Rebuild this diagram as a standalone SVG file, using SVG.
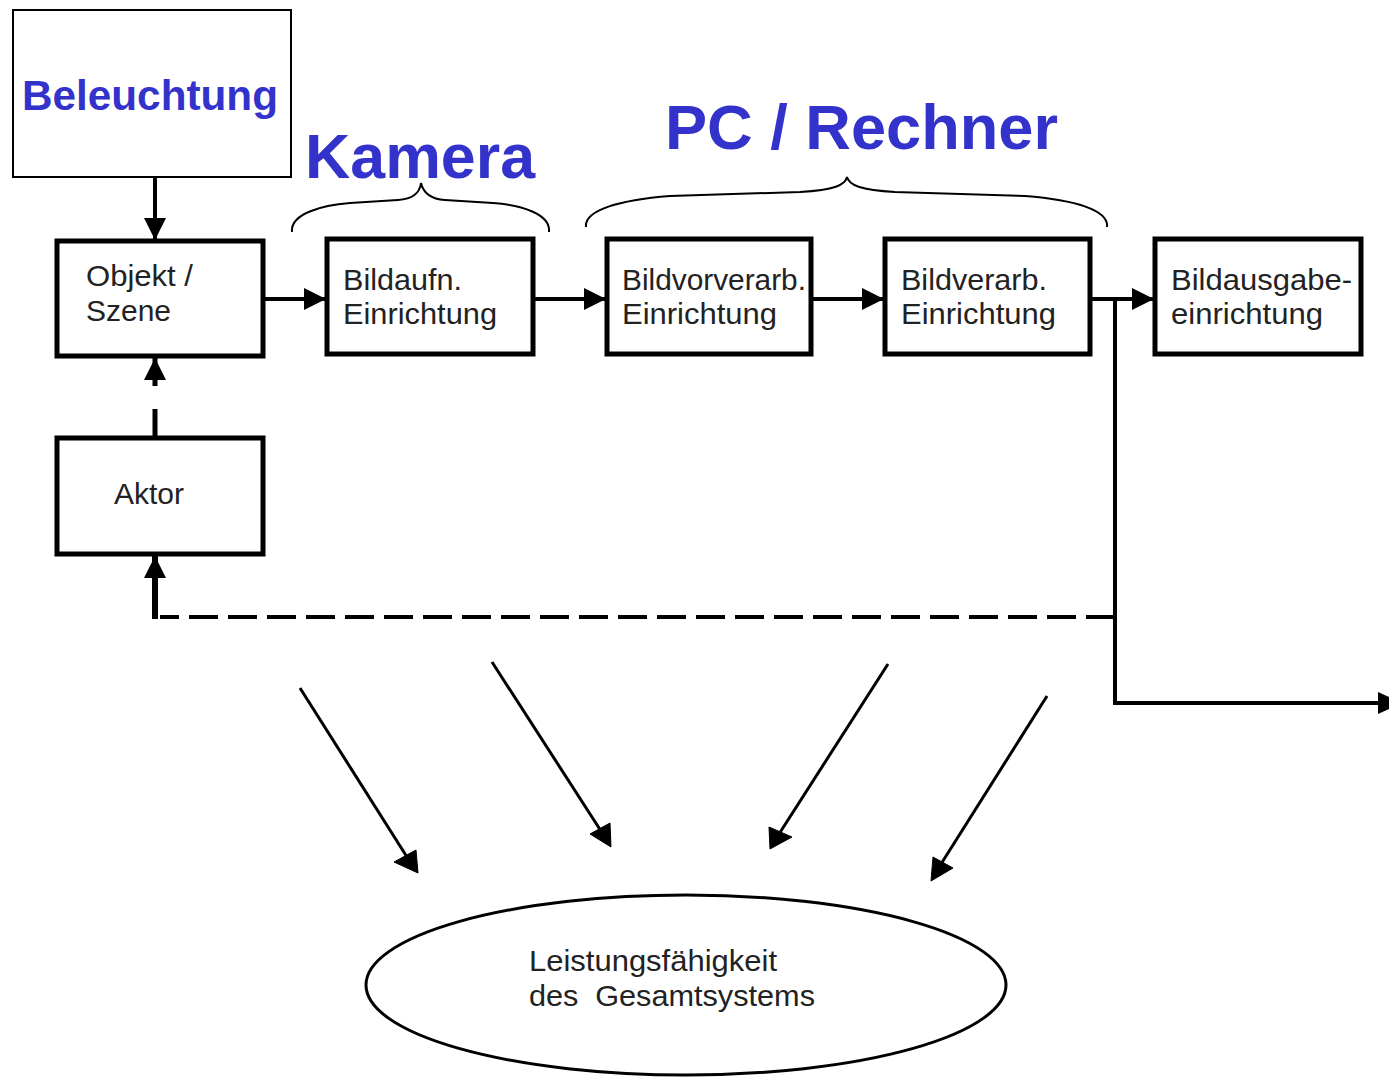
<svg xmlns="http://www.w3.org/2000/svg" width="1389" height="1078" viewBox="0 0 1389 1078">
<style>
.box{fill:#fff;stroke:#000;stroke-width:5}
.lbl{font-family:"Liberation Sans",Arial,sans-serif;font-size:30px;fill:#222}
.blue{font-family:"Liberation Sans",Arial,sans-serif;font-weight:bold;fill:#3333cc}
.ln{fill:none;stroke:#000;stroke-width:4}
.thin{fill:none;stroke:#000;stroke-width:3}
.brace{fill:none;stroke:#000;stroke-width:2}
.head{fill:#000;stroke:#000;stroke-width:1;stroke-linejoin:round}
</style>
<defs>
<marker id="ah" markerUnits="userSpaceOnUse" markerWidth="22" markerHeight="22" refX="22" refY="11" orient="auto">
<path d="M0,0 L22,11 L0,22 z" fill="#000"/>
</marker>
</defs>

<g id="beleuchtung">
<rect x="13" y="10" width="278" height="167" fill="#fff" stroke="#000" stroke-width="2"/>
<text class="blue" x="22" y="110" font-size="42" textLength="256" lengthAdjust="spacingAndGlyphs">Beleuchtung</text>
</g>
<g id="label-kamera">
<text class="blue" x="305" y="178" font-size="63" textLength="230" lengthAdjust="spacingAndGlyphs">Kamera</text>
<path class="brace" d="M292,232 C290,214 322,205 350,203 L398,200 C413,199 420,192 421,183 C423,192 430,199 445,200 L493,203 C521,205 551,214 549,232"/>
</g>
<g id="label-pc">
<text class="blue" x="665" y="149" font-size="63" textLength="393" lengthAdjust="spacingAndGlyphs">PC / Rechner</text>
<path class="brace" d="M586,227 C584,210 620,200 670,196 L800,192 C835,190 845,185 847,177 C849,185 860,190 895,192 L1025,196 C1075,200 1109,210 1107,227"/>
</g>

<g id="objekt">
<rect class="box" x="57" y="241" width="206" height="115"/>
<text class="lbl" x="86" y="286" textLength="107" lengthAdjust="spacingAndGlyphs">Objekt /</text>
<text class="lbl" x="86" y="321" textLength="85" lengthAdjust="spacingAndGlyphs">Szene</text>
</g>
<g id="bildaufn">
<rect class="box" x="327" y="239" width="206" height="115"/>
<text class="lbl" x="343" y="290" textLength="119" lengthAdjust="spacingAndGlyphs">Bildaufn.</text>
<text class="lbl" x="343" y="324" textLength="154" lengthAdjust="spacingAndGlyphs">Einrichtung</text>
</g>
<g id="bildvorverarb">
<rect class="box" x="607" y="239" width="204" height="115"/>
<text class="lbl" x="622" y="290" textLength="184" lengthAdjust="spacingAndGlyphs">Bildvorverarb.</text>
<text class="lbl" x="622" y="324" textLength="155" lengthAdjust="spacingAndGlyphs">Einrichtung</text>
</g>
<g id="bildverarb">
<rect class="box" x="885" y="239" width="205" height="115"/>
<text class="lbl" x="901" y="290" textLength="146" lengthAdjust="spacingAndGlyphs">Bildverarb.</text>
<text class="lbl" x="901" y="324" textLength="155" lengthAdjust="spacingAndGlyphs">Einrichtung</text>
</g>
<g id="bildausgabe">
<rect class="box" x="1155" y="239" width="206" height="115"/>
<text class="lbl" x="1171" y="290" textLength="181" lengthAdjust="spacingAndGlyphs">Bildausgabe-</text>
<text class="lbl" x="1171" y="324" textLength="152" lengthAdjust="spacingAndGlyphs">einrichtung</text>
</g>
<g id="aktor">
<rect class="box" x="57" y="438" width="206" height="116"/>
<text class="lbl" x="114" y="504" textLength="70" lengthAdjust="spacingAndGlyphs">Aktor</text>
</g>
<g id="leistung">
<ellipse cx="686" cy="985" rx="320" ry="90" fill="#fff" stroke="#000" stroke-width="3"/>
<text class="lbl" x="529" y="971" textLength="248" lengthAdjust="spacingAndGlyphs">Leistungsfähigkeit</text>
<text class="lbl" x="529" y="1006" style="word-spacing:8px" textLength="286" lengthAdjust="spacingAndGlyphs">des Gesamtsystems</text>
</g>

<g id="connectors">
<line class="ln" x1="155" y1="177" x2="155" y2="240" marker-end="url(#ah)"/>
<line class="ln" x1="263" y1="299" x2="326" y2="299" marker-end="url(#ah)"/>
<line class="ln" x1="533" y1="299" x2="606" y2="299" marker-end="url(#ah)"/>
<line class="ln" x1="811" y1="299" x2="884" y2="299" marker-end="url(#ah)"/>
<line class="ln" x1="1090" y1="299" x2="1154" y2="299" marker-end="url(#ah)"/>
<polyline class="ln" points="1115,299 1115,703 1389,703"/>
<path d="M1378,692 L1389,697 L1389,709 L1378,714 z" fill="#000"/>
<line class="ln" x1="1115" y1="617" x2="160" y2="617" stroke-dasharray="29 10"/>
<line x1="155" y1="619" x2="155" y2="556" stroke="#000" stroke-width="6" marker-end="url(#ah)"/>
<line x1="155" y1="436" x2="155" y2="358" stroke="#000" stroke-width="5" stroke-dasharray="27 23 50" marker-end="url(#ah)"/>
<line class="thin" x1="300" y1="688" x2="407" y2="857"/>
<polygon class="head" points="418,873 416,850 394,862"/>
<line class="thin" x1="492" y1="662" x2="601" y2="831"/>
<polygon class="head" points="611,847 610,823 590,834"/>
<line class="thin" x1="888" y1="664" x2="779" y2="834"/>
<polygon class="head" points="770,849 769,827 792,837"/>
<line class="thin" x1="1047" y1="696" x2="941" y2="864"/>
<polygon class="head" points="931,881 933,857 953,868"/>
</g>
</svg>
